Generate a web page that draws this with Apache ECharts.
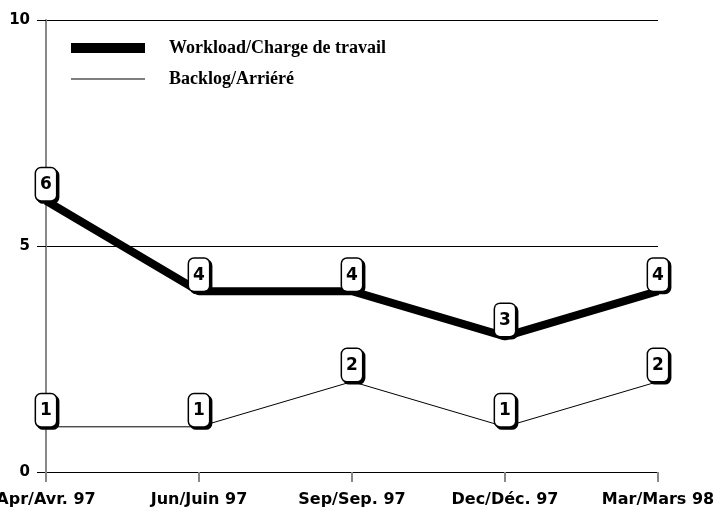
<!DOCTYPE html>
<html><head><meta charset="utf-8">
<script src="https://cdn.jsdelivr.net/npm/echarts@6/dist/echarts.min.js"></script>
<style>html,body{margin:0;padding:0;background:#fff}#c{width:715px;height:510px}</style>
</head><body><div id="c"></div>
<script>
const categories = ['Apr/Avr. 97', 'Jun/Juin 97', 'Sep/Sep. 97', 'Dec/Déc. 97', 'Mar/Mars 98'];
const workload = [6, 4, 4, 3, 4];
const backlog = [1, 1, 2, 1, 2];
const seriesNames = ['Workload/Charge de travail', 'Backlog/Arriéré'];

const labelStyle = {
  show: true, position: 'top', distance: 0,
  fontFamily: 'DejaVu Sans', fontWeight: 'bold', fontSize: 17, color: '#000',
  backgroundColor: '#fff', borderColor: '#000', borderWidth: 1.5, borderRadius: 5,
  padding: [8, 4, 7, 4], shadowColor: '#000', shadowOffsetX: 2, shadowOffsetY: 2, shadowBlur: 0
};

const chart = echarts.init(document.getElementById('c'));
chart.setOption({
  animation: false,
  grid: { left: 46, right: 57, top: 20, bottom: 38, containLabel: false, outerBoundsMode: 'none' },
  legend: {
    orient: 'vertical', left: 66, top: 34, itemWidth: 74, itemHeight: 10, itemGap: 13,
    selectedMode: false,
    textStyle: { fontFamily: 'Liberation Serif, Times New Roman', fontWeight: 'bold', fontSize: 18, color: '#000', padding: [0, 0, 0, 19] },
    data: [
      { name: seriesNames[0], icon: 'rect', itemStyle: { color: '#000' } },
      { name: seriesNames[1], icon: 'path://M0,0 L100,0 L100,1.2 L0,1.2 Z', itemStyle: { color: '#000' } }
    ]
  },
  xAxis: {
    type: 'category', data: categories, boundaryGap: false,
    axisLine: { lineStyle: { color: '#000', width: 1 } },
    axisTick: { show: true, length: 10, lineStyle: { color: '#888', width: 2 } },
    axisLabel: { fontFamily: 'DejaVu Sans', fontWeight: 'bold', fontSize: 16, color: '#000', margin: 20 }
  },
  yAxis: {
    type: 'value', min: 0, max: 10, interval: 5,
    axisLine: { show: true, lineStyle: { color: '#888', width: 2 } },
    axisTick: { show: true, length: 9, lineStyle: { color: '#000', width: 1 } },
    splitLine: { show: true, lineStyle: { color: '#000', width: 1 } },
    axisLabel: { fontFamily: 'DejaVu Sans', fontWeight: 'bold', fontSize: 15, color: '#000', margin: 16 }
  },
  series: [
    { name: seriesNames[0], type: 'line', data: workload, symbol: 'circle', symbolSize: 1, showSymbol: true, z: 3,
      lineStyle: { color: '#000', width: 8 }, itemStyle: { color: '#000' }, label: labelStyle },
    { name: seriesNames[1], type: 'line', data: backlog, symbol: 'circle', symbolSize: 1, showSymbol: true, z: 2,
      lineStyle: { color: '#000', width: 1 }, itemStyle: { color: '#000' }, label: labelStyle }
  ]
});
</script></body></html>
